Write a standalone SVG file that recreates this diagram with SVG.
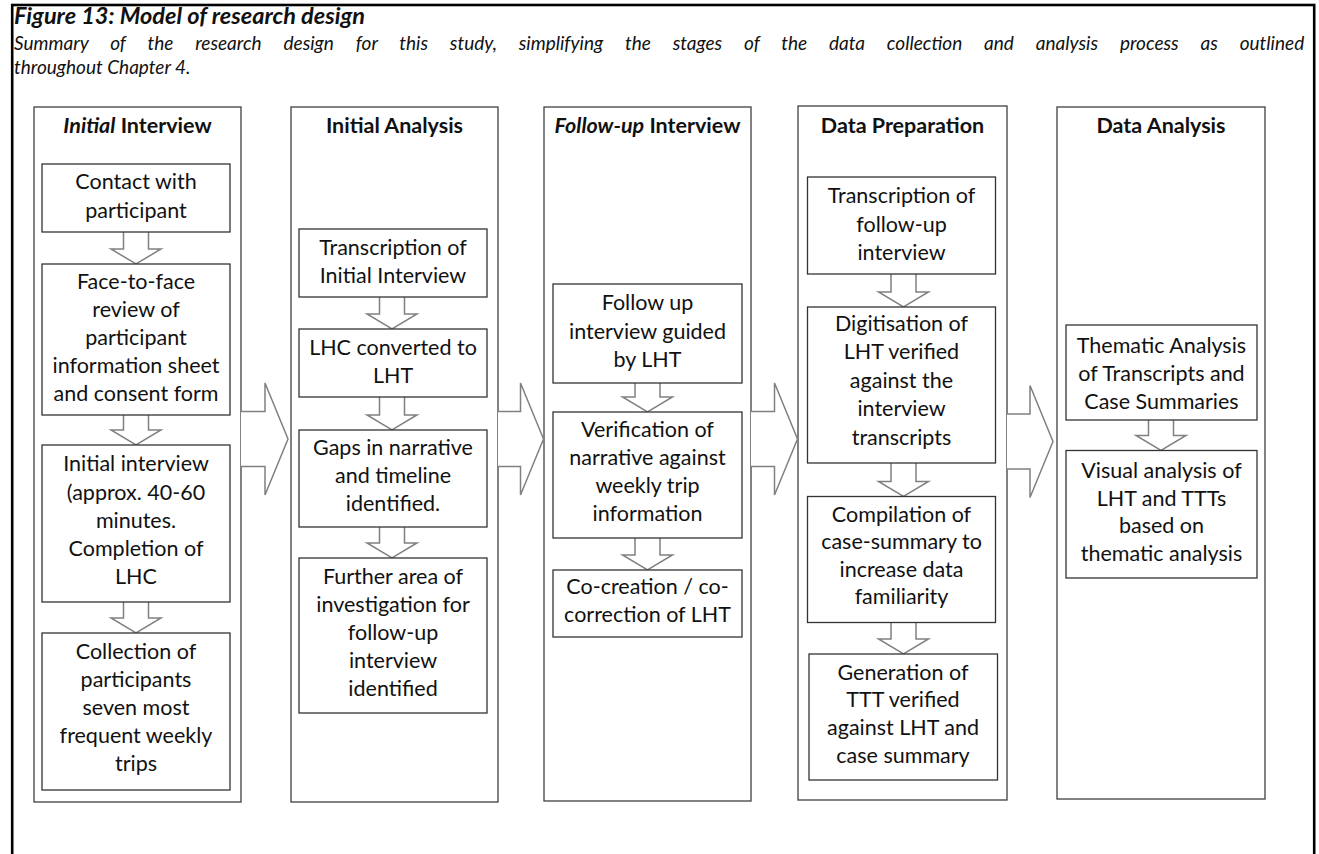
<svg xmlns="http://www.w3.org/2000/svg" width="1319" height="854" viewBox="0 0 1319 854">
  <style>
    .frame { fill: none; stroke: #000; stroke-width: 2.6; }
    .col { fill: #fff; stroke: #404040; stroke-width: 1.3; }
    .box { fill: #fff; stroke: #333; stroke-width: 1.3; }
    .arr { fill: #fff; stroke: #808080; stroke-width: 1.5; stroke-linejoin: miter; }
    text { font-family: Lato, "Open Sans", "Liberation Sans", sans-serif; fill: #111; }
    .t { font-size: 21.5px; text-anchor: middle; }
    .h { font-size: 21.5px; font-weight: bold; text-anchor: middle; }
    .title { font-size: 23.5px; font-weight: bold; font-style: italic; }
    .cap { font-size: 19px; font-style: italic; }
    .it { font-style: italic; }
  </style>

  <rect x="0" y="0" width="1319" height="854" fill="#fff"/>
  <rect class="frame" x="12.2" y="5" width="1302" height="900"/>

  <g id="caption">
    <text class="title" x="14" y="24">Figure 13: Model of research design</text>
    <text class="cap" x="14" y="50" word-spacing="17.4">Summary of the research design for this study, simplifying the stages of the data collection and analysis process as outlined</text>
    <text class="cap" x="14" y="74">throughout Chapter 4.</text>
  </g>

  <!-- stage columns -->
  <g id="stage-initial-interview">
    <rect class="col" x="34" y="107" width="207" height="695"/>
    <text class="h" x="137.5" y="133"><tspan class="it">Initial</tspan> Interview</text>
  </g>
  <g id="stage-initial-analysis">
    <rect class="col" x="291" y="107" width="207" height="695"/>
    <text class="h" x="394.5" y="133">Initial Analysis</text>
  </g>
  <g id="stage-follow-up-interview">
    <rect class="col" x="544" y="107" width="207" height="694"/>
    <text class="h" x="647.5" y="133"><tspan class="it">Follow-up</tspan> Interview</text>
  </g>
  <g id="stage-data-preparation">
    <rect class="col" x="798" y="106" width="209" height="694"/>
    <text class="h" x="902.5" y="133">Data Preparation</text>
  </g>
  <g id="stage-data-analysis">
    <rect class="col" x="1057" y="107" width="208" height="692"/>
    <text class="h" x="1161" y="133">Data Analysis</text>
  </g>

  <!-- connectors: block arrows between stages and between steps -->
  <g id="connectors">
    <path class="arr" d="M241,411.5 H265 V383 L288,439 L265,495 V466.5 H241"/>
    <path class="arr" d="M498,411.5 H520.5 V383 L543.5,439 L520.5,495 V466.5 H498"/>
    <path class="arr" d="M751,411.5 H774.5 V383 L797.5,439 L774.5,495 V466.5 H751"/>
    <path class="arr" d="M1007,414 H1030 V385.5 L1053,441.5 L1030,497.5 V469 H1007"/>

    <path class="arr" d="M123.5,232 V249 H111 L136,264 L161,249 H148.5 V232"/>
    <path class="arr" d="M123.5,415 V430 H111 L136,445 L161,430 H148.5 V415"/>
    <path class="arr" d="M123.5,602 V618 H111 L136,633 L161,618 H148.5 V602"/>

    <path class="arr" d="M379.5,297 V314 H367 L392,329 L417,314 H404.5 V297"/>
    <path class="arr" d="M379.5,397 V415 H367 L392,430 L417,415 H404.5 V397"/>
    <path class="arr" d="M379.5,527 V543 H367 L392,558 L417,543 H404.5 V527"/>

    <path class="arr" d="M635,383 V397 H622.5 L647.5,412 L672.5,397 H660 V383"/>
    <path class="arr" d="M635,538 V555 H622.5 L647.5,570 L672.5,555 H660 V538"/>

    <path class="arr" d="M891,274 V292 H878.5 L903.5,307 L928.5,292 H916 V274"/>
    <path class="arr" d="M891,463 V481.5 H878.5 L903.5,496.5 L928.5,481.5 H916 V463"/>
    <path class="arr" d="M891,622.5 V639 H878.5 L903.5,654 L928.5,639 H916 V622.5"/>

    <path class="arr" d="M1148.5,420 V435.5 H1136 L1161,450.5 L1186,435.5 H1173.5 V420"/>
  </g>

  <!-- Initial Interview steps -->
  <g id="contact">
    <rect class="box" x="42" y="164" width="188" height="68"/>
    <text class="t" x="136" y="189">Contact with</text>
    <text class="t" x="136" y="217.5">participant</text>
  </g>
  <g id="face-to-face">
    <rect class="box" x="42" y="264" width="188" height="151"/>
    <text class="t" x="136" y="289">Face-to-face</text>
    <text class="t" x="136" y="317">review of</text>
    <text class="t" x="136" y="345">participant</text>
    <text class="t" x="136" y="373">information sheet</text>
    <text class="t" x="136" y="401">and consent form</text>
  </g>
  <g id="initial-interview">
    <rect class="box" x="42" y="445" width="188" height="157"/>
    <text class="t" x="136" y="471">Initial interview</text>
    <text class="t" x="136" y="499.5">(approx. 40-60</text>
    <text class="t" x="136" y="527.5">minutes.</text>
    <text class="t" x="136" y="555.5">Completion of</text>
    <text class="t" x="136" y="583.5">LHC</text>
  </g>
  <g id="collection">
    <rect class="box" x="42" y="633" width="188" height="157"/>
    <text class="t" x="136" y="658.5">Collection of</text>
    <text class="t" x="136" y="687">participants</text>
    <text class="t" x="136" y="715">seven most</text>
    <text class="t" x="136" y="743">frequent weekly</text>
    <text class="t" x="136" y="771">trips</text>
  </g>

  <!-- Initial Analysis steps -->
  <g id="transcription-initial">
    <rect class="box" x="299" y="229" width="188" height="68"/>
    <text class="t" x="393" y="255">Transcription of</text>
    <text class="t" x="393" y="283">Initial Interview</text>
  </g>
  <g id="lhc-to-lht">
    <rect class="box" x="299" y="329" width="188" height="68"/>
    <text class="t" x="393" y="355">LHC converted to</text>
    <text class="t" x="393" y="383">LHT</text>
  </g>
  <g id="gaps">
    <rect class="box" x="299" y="430" width="188" height="97"/>
    <text class="t" x="393" y="455">Gaps in narrative</text>
    <text class="t" x="393" y="482.5">and timeline</text>
    <text class="t" x="393" y="510.5">identified.</text>
  </g>
  <g id="further-area">
    <rect class="box" x="299" y="558" width="188" height="155"/>
    <text class="t" x="393" y="583.5">Further area of</text>
    <text class="t" x="393" y="611.5">investigation for</text>
    <text class="t" x="393" y="640">follow-up</text>
    <text class="t" x="393" y="668">interview</text>
    <text class="t" x="393" y="696">identified</text>
  </g>

  <!-- Follow-up Interview steps -->
  <g id="follow-up-guided">
    <rect class="box" x="553" y="284" width="189" height="99"/>
    <text class="t" x="647.5" y="310">Follow up</text>
    <text class="t" x="647.5" y="338.5">interview guided</text>
    <text class="t" x="647.5" y="366.5">by LHT</text>
  </g>
  <g id="verification">
    <rect class="box" x="553" y="412" width="189" height="126"/>
    <text class="t" x="647.5" y="436.5">Verification of</text>
    <text class="t" x="647.5" y="465">narrative against</text>
    <text class="t" x="647.5" y="493.3">weekly trip</text>
    <text class="t" x="647.5" y="521">information</text>
  </g>
  <g id="co-creation">
    <rect class="box" x="553" y="570" width="189" height="67"/>
    <text class="t" x="647.5" y="594">Co-creation / co-</text>
    <text class="t" x="647.5" y="622">correction of LHT</text>
  </g>

  <!-- Data Preparation steps -->
  <g id="transcription-follow-up">
    <rect class="box" x="807.5" y="177" width="188" height="97"/>
    <text class="t" x="901.5" y="203">Transcription of</text>
    <text class="t" x="901.5" y="231.5">follow-up</text>
    <text class="t" x="901.5" y="260">interview</text>
  </g>
  <g id="digitisation">
    <rect class="box" x="807.5" y="307" width="188" height="156"/>
    <text class="t" x="901.5" y="330.7">Digitisation of</text>
    <text class="t" x="901.5" y="359">LHT verified</text>
    <text class="t" x="901.5" y="387.7">against the</text>
    <text class="t" x="901.5" y="416">interview</text>
    <text class="t" x="901.5" y="445">transcripts</text>
  </g>
  <g id="case-summary">
    <rect class="box" x="807.5" y="496.5" width="188" height="126"/>
    <text class="t" x="901.5" y="521.7">Compilation of</text>
    <text class="t" x="901.5" y="549.3">case-summary to</text>
    <text class="t" x="901.5" y="576.7">increase data</text>
    <text class="t" x="901.5" y="604.3">familiarity</text>
  </g>
  <g id="ttt-generation">
    <rect class="box" x="809" y="654" width="188.5" height="126"/>
    <text class="t" x="903" y="680">Generation of</text>
    <text class="t" x="903" y="707.3">TTT verified</text>
    <text class="t" x="903" y="735">against LHT and</text>
    <text class="t" x="903" y="763.3">case summary</text>
  </g>

  <!-- Data Analysis steps -->
  <g id="thematic-analysis">
    <rect class="box" x="1066" y="325" width="191" height="95"/>
    <text class="t" x="1161.5" y="352.5">Thematic Analysis</text>
    <text class="t" x="1161.5" y="380.5">of Transcripts and</text>
    <text class="t" x="1161.5" y="408.5">Case Summaries</text>
  </g>
  <g id="visual-analysis">
    <rect class="box" x="1066" y="450.5" width="191" height="127.5"/>
    <text class="t" x="1161.5" y="478.3">Visual analysis of</text>
    <text class="t" x="1161.5" y="506">LHT and TTTs</text>
    <text class="t" x="1161.5" y="533.3">based on</text>
    <text class="t" x="1161.5" y="561">thematic analysis</text>
  </g>
</svg>
